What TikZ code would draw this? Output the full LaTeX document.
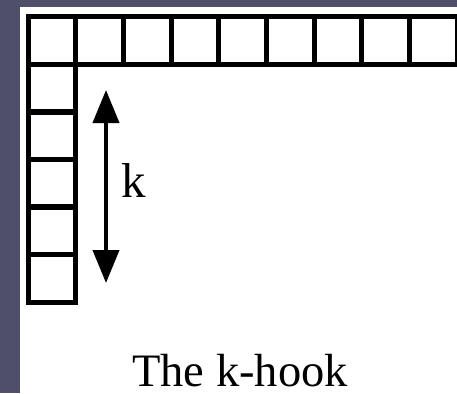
\documentclass[tikz,border=0pt]{standalone}
\usepackage{fontspec}
\setmainfont{Liberation Serif}
\usepackage{xcolor}
\usetikzlibrary{arrows.meta,positioning}
\definecolor{slate}{RGB}{80,79,106}

\begin{document}
\begin{tikzpicture}[x=1pt, y=-1pt, font=\fontsize{46.5}{56}\selectfont, cell/.style={draw, line width=5pt, minimum size=47.7pt, inner sep=0pt}]
\fill[slate] (0,0) rectangle (457,393);
\fill[white] (20,7) rectangle (457,393);
\useasboundingbox (0,0) rectangle (457,393);
% top row of the hook
\foreach \i in {0,...,8} \node[cell] (r\i) at (51.85+47.7*\i,40.75) {};
% first column below the corner
\foreach \j in {1,...,5} \node[cell] (c\j) at (51.85,40.75+47.5*\j) {};
\coordinate (up) at (106,90); \coordinate (down) at (106,283);
\draw[line width=4pt, {Triangle[width=26pt,length=33pt]}-{Triangle[width=26pt,length=33pt]}] (up)--(down);
\node[anchor=base, font=\fontsize{49}{56}\selectfont] (k) at (134,197) {k};
\node[anchor=base, inner sep=0pt] (cap) at (240,386) {The k-hook};
\end{tikzpicture}
\end{document}
